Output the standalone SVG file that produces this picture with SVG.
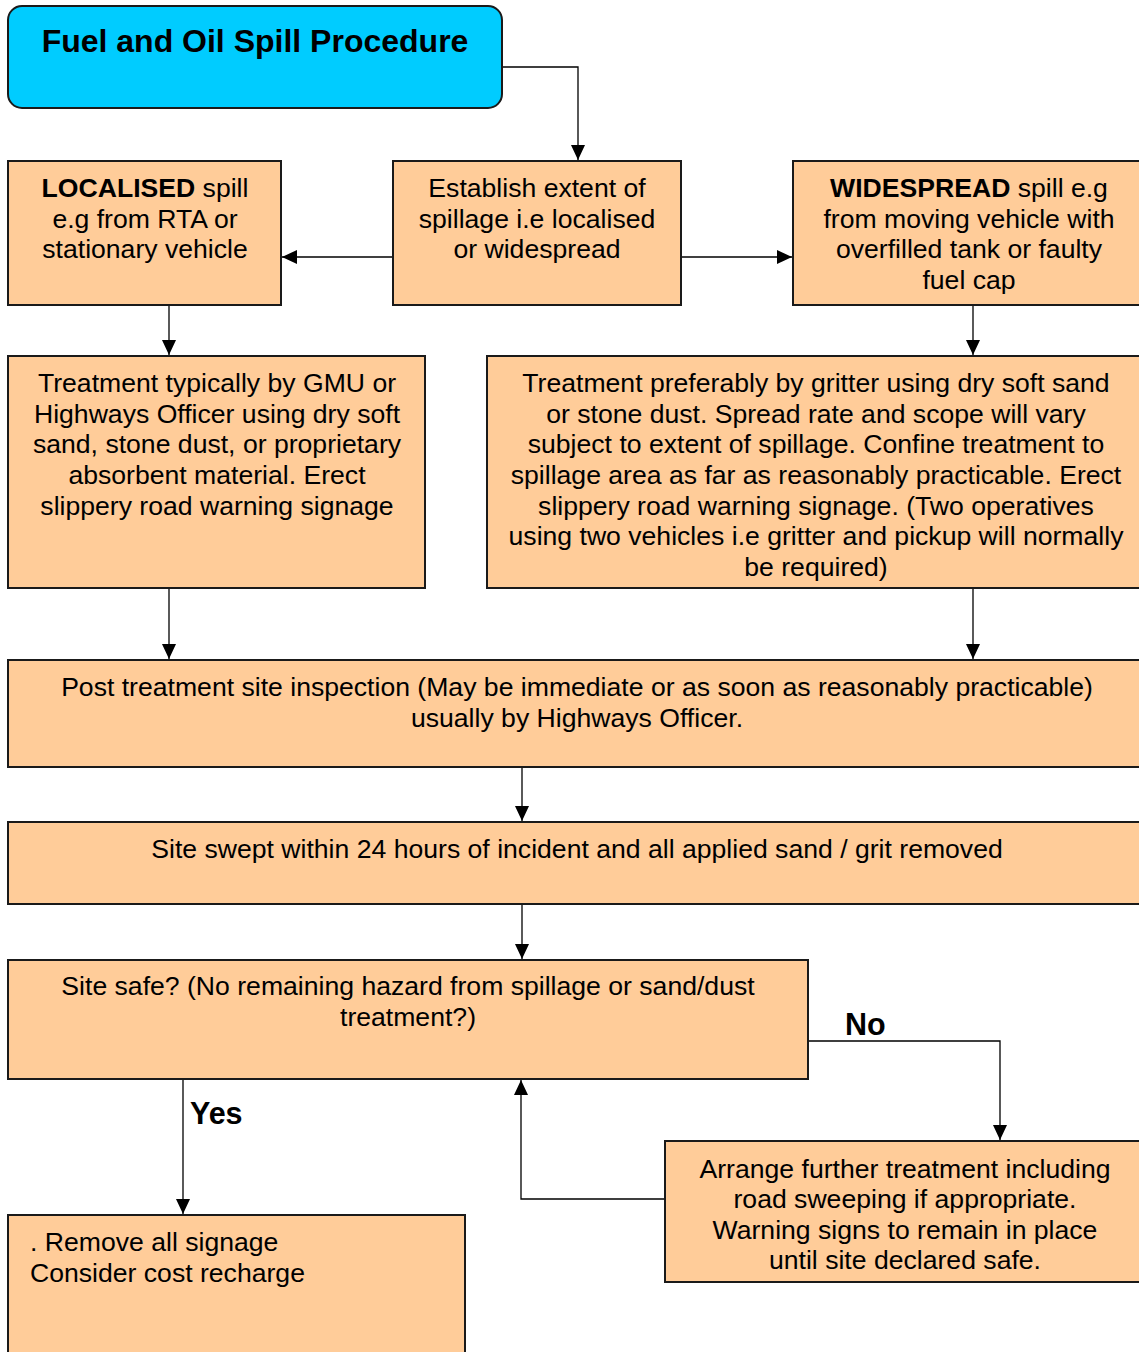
<svg xmlns="http://www.w3.org/2000/svg" width="1139" height="1352" viewBox="0 0 1139 1352">
<style>
.box{fill:#FFCC99;stroke:#1a1a1a;stroke-width:2}
.title{fill:#00CCFF;stroke:#1a1a1a;stroke-width:2}
text{font-family:"Liberation Sans",Arial,sans-serif;font-size:26.6px;fill:#000}
.c{text-anchor:middle}
.b{font-weight:bold}
.conn{fill:none;stroke:#000;stroke-width:1.3}
</style>
<defs>
<marker id="ah" markerUnits="userSpaceOnUse" markerWidth="16" markerHeight="16" viewBox="0 0 16 16" refX="15" refY="8" orient="auto">
<path d="M0,1 L15,8 L0,15 Z" fill="#000"/>
</marker>
</defs>
<rect width="1139" height="1352" fill="#fff"/>
<g id="connectors">
<path class="conn" d="M502,67 H578 V160" marker-end="url(#ah)"/>
<path class="conn" d="M393,257 H282" marker-end="url(#ah)"/>
<path class="conn" d="M681,257 H792" marker-end="url(#ah)"/>
<path class="conn" d="M169,305 V355" marker-end="url(#ah)"/>
<path class="conn" d="M973,305 V355" marker-end="url(#ah)"/>
<path class="conn" d="M169,588 V659" marker-end="url(#ah)"/>
<path class="conn" d="M973,588 V659" marker-end="url(#ah)"/>
<path class="conn" d="M522,767 V821" marker-end="url(#ah)"/>
<path class="conn" d="M522,904 V959" marker-end="url(#ah)"/>
<path class="conn" d="M808,1041 H1000 V1140" marker-end="url(#ah)"/>
<path class="conn" d="M183,1079 V1214" marker-end="url(#ah)"/>
<path class="conn" d="M665,1199 H521 V1080" marker-end="url(#ah)"/>
<text class="b" x="845" y="1035" style="font-size:30.5px">No</text>
<text class="b" x="190" y="1124" style="font-size:30.5px">Yes</text>
</g>
<g id="title">
<rect class="title" x="8" y="6" width="494" height="102" rx="14"/>
<text class="c b" x="255" y="52" style="font-size:32px">Fuel and Oil Spill Procedure</text>
</g>
<g id="localised">
<rect class="box" x="8" y="161" width="273" height="144"/>
<text class="c" x="145" y="197"><tspan class="b">LOCALISED</tspan> spill</text>
<text class="c" x="145" y="228">e.g from RTA or</text>
<text class="c" x="145" y="258">stationary vehicle</text>
</g>
<g id="establish">
<rect class="box" x="393" y="161" width="288" height="144"/>
<text class="c" x="537" y="197">Establish extent of</text>
<text class="c" x="537" y="228">spillage i.e localised</text>
<text class="c" x="537" y="258">or widespread</text>
</g>
<g id="widespread">
<rect class="box" x="793" y="161" width="352" height="144"/>
<text class="c" x="969" y="197"><tspan class="b">WIDESPREAD</tspan> spill e.g</text>
<text class="c" x="969" y="228">from moving vehicle with</text>
<text class="c" x="969" y="258">overfilled tank or faulty</text>
<text class="c" x="969" y="289">fuel cap</text>
</g>
<g id="treat-local">
<rect class="box" x="8" y="356" width="417" height="232"/>
<text class="c" x="217" y="392">Treatment typically by GMU or</text>
<text class="c" x="217" y="423">Highways Officer using dry soft</text>
<text class="c" x="217" y="453">sand, stone dust, or proprietary</text>
<text class="c" x="217" y="484">absorbent material. Erect</text>
<text class="c" x="217" y="515">slippery road warning signage</text>
</g>
<g id="treat-wide">
<rect class="box" x="487" y="356" width="658" height="232"/>
<text class="c" x="816" y="392">Treatment preferably by gritter using dry soft sand</text>
<text class="c" x="816" y="423">or stone dust. Spread rate and scope will vary</text>
<text class="c" x="816" y="453">subject to extent of spillage. Confine treatment to</text>
<text class="c" x="816" y="484">spillage area as far as reasonably practicable. Erect</text>
<text class="c" x="816" y="515">slippery road warning signage. (Two operatives</text>
<text class="c" x="816" y="545">using two vehicles i.e gritter and pickup will normally</text>
<text class="c" x="816" y="576">be required)</text>
</g>
<g id="post">
<rect class="box" x="8" y="660" width="1137" height="107"/>
<text class="c" x="577" y="696">Post treatment site inspection (May be immediate or as soon as reasonably practicable)</text>
<text class="c" x="577" y="727">usually by Highways Officer.</text>
</g>
<g id="swept">
<rect class="box" x="8" y="822" width="1137" height="82"/>
<text class="c" x="577" y="858">Site swept within 24 hours of incident and all applied sand / grit removed</text>
</g>
<g id="safe">
<rect class="box" x="8" y="960" width="800" height="119"/>
<text class="c" x="408" y="995">Site safe? (No remaining hazard from spillage or sand/dust</text>
<text class="c" x="408" y="1026">treatment?)</text>
</g>
<g id="remove">
<rect class="box" x="8" y="1215" width="457" height="150"/>
<text x="30" y="1251">. Remove all signage</text>
<text x="30" y="1282">Consider cost recharge</text>
</g>
<g id="arrange">
<rect class="box" x="665" y="1141" width="480" height="141"/>
<text class="c" x="905" y="1178">Arrange further treatment including</text>
<text class="c" x="905" y="1208">road sweeping if appropriate.</text>
<text class="c" x="905" y="1239">Warning signs to remain in place</text>
<text class="c" x="905" y="1269">until site declared safe.</text>
</g>
</svg>
